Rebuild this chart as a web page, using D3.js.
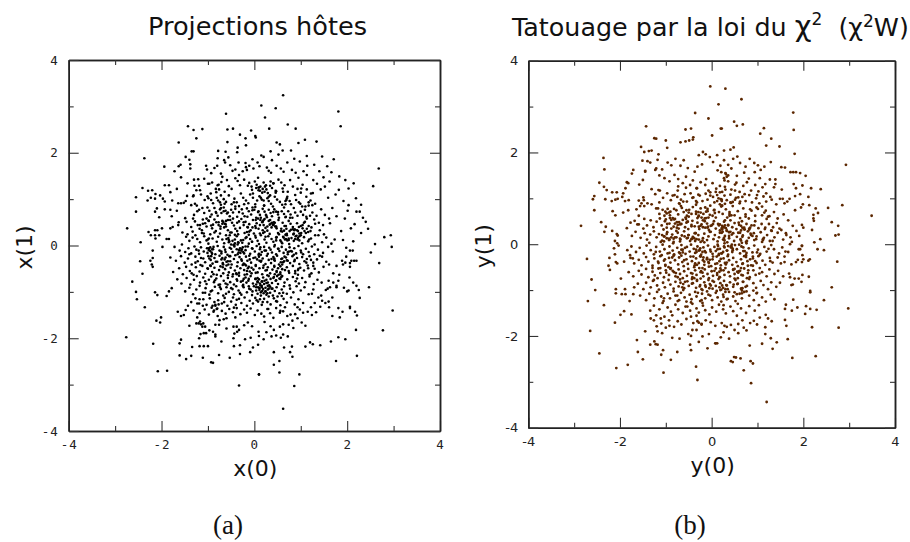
<!DOCTYPE html>
<html><head><meta charset="utf-8">
<script src="https://d3js.org/d3.v7.min.js"></script>
<style>html,body{margin:0;padding:0;background:#fff}svg{display:block}</style></head>
<body><svg id="c" width="910" height="542"></svg>
<script>
const hostOuter=[.15,3.02,.23,2.76,.32,2.52,-.61,2.84,-1.43,2.57,-1.31,2.49,-1.12,2.51,-1.25,2.31,-1.63,2.22,-1.31,2.03,-1.35,2.03,-1.48,1.91,-1.4,1.85,-2.37,1.88,-1.94,1.7,-1.72,1.6,-1.59,1.74,-1.38,1.75,-1.38,1.66,-.58,2.5,-.46,2.52,-.58,2.23,-.31,2.39,-.19,2.31,-.07,2.48,.02,2.36,.03,2.33,-.36,2.11,-.37,2.01,-.18,2.16,-.78,2.04,-.62,2.02,-.79,1.88,-.65,1.84,-.56,1.9,-.63,1.79,.15,1.94,.2,1.91,-.04,1.86,-.34,1.79,-.19,1.78,-.18,1.69,-.16,1.63,-2.41,1.24,-2.55,1.04,-2.55,.73,-2.74,.37,-2.45,.07,-2.29,1.18,-2.2,1.19,-2.13,1.11,-2.03,1.08,-2.23,1.03,-2.3,.97,-2.14,1.01,-1.97,1.01,-1.93,.95,-1.93,1.3,-1.84,1.3,-1.81,1.15,-1.67,1.22,-2.1,.8,-2.14,.73,-1.93,.78,-1.81,.77,-1.78,.63,-2.05,.61,-1.67,.75,-1.77,.97,-1.64,.91,-1.58,.91,-1.48,.96,-1.52,.92,-1.45,1.07,-1.58,1.47,-1.44,1.34,-1.3,1.42,-1.21,1.43,-1.29,1.29,-1.19,1.29,-1.31,1.08,-1.15,1.1,-1.25,1.19,-1.17,1.19,-2.28,.29,-2.14,.33,-2.09,.33,-1.99,.37,-2.23,.22,-2.14,.22,-2.05,.22,-2.13,.15,-1.89,.14,-1.84,.14,-1.81,.37,-1.76,.4,-1.64,.44,-1.63,.5,-1.49,.59,-1.46,.51,-1.32,.58,-1.36,.87,
.62,-3.52,.86,-3.03,.97,-2.78,.1,-2.78,.54,-2.74,.42,-2.57,.54,-2.49,.82,-2.4,.77,-2.3,.42,-2.3,.64,-2.2,.81,-2.18,1.1,-2.18,1.2,-2.09,1.26,-2.13,1.42,-2.15,1.65,-2.07,1.81,-1.98,1.96,-2.02,1.76,-2.49,2.21,-2.38,2.19,-1.82,2.77,-1.83,2.98,-1.4,2.27,-1.13,2.25,-.96,2.47,-.9,2.2,-.87,2.13,-.8,2.05,-.69,2.69,-.38,2.51,-.15,2.6,.03,2.96,-.03,2.8,.18,2.94,.22,2.13,.09,2.06,-.11,2.12,-.11,1.98,-.05,1.98,-.24,2.09,-.33,2.15,-.33,2.2,-.33,2.06,-.38,2.06,-.46,1.96,-.37,1.89,-.33,1.91,-.41,1.77,-.44,1.61,-.41,1.7,-.6,1.83,-.63,1.6,-.76,1.7,-.8,1.81,-.76,1.77,-.87,1.77,-.9,1.93,-.91,2,-.99,2.03,-.97,1.63,-.9,1.58,-.93,1.54,-.96,1.68,-1.12,1.6,-1.21,1.61,-1.33,1.81,-1.35,1.9,-1.43,2.06,-1.32,2.06,-1.35,2.17,-1.43,2.21,-1.51,1.68,-1.52,1.84,-1.55,
-2.76,-1.98,-2.18,-2.12,-2.08,-2.71,-1.88,-2.7,-2.63,-.78,-2.55,-1,-2.53,-1.16,-2.36,-1.33,-2.41,-.61,-2.46,-.34,-2.24,-.33,-2.19,-.27,-2.21,-.41,-2.19,-.46,-2.19,-.11,-1.98,-.03,-2.14,-1.01,-2.09,-1.07,-1.89,-1.09,-1.84,-.99,-1.78,-.92,-2.01,-1.55,-2.11,-1.62,-2.03,-1.66,-1.65,-1.43,-1.58,-1.52,-1.52,-1.5,-1.43,-1.3,-1.48,-1.39,-1.4,-1.73,-1.58,-2.03,-1.61,-2.11,-1.34,-2.19,-1.61,-2.37,-1.47,-2.45,-1.36,-2.38,-1.18,-2.17,-1.09,-2.17,-1,-2.17,-1.11,-2.42,-.93,-2.52,-.89,-2.53,-.76,-2.36,-.53,-2.42,-.31,-2.34,-.09,-2.3,-.03,-2.2,-.33,-3.02,.1,-2.78,-.44,-2.17,-.31,-2.15,-.71,-2.07,-1.19,-2,-1.16,-1.91,-1.09,-1.89,-1.04,-1.89,-.97,-1.83,-.89,-1.86,-.84,-1.92,-.84,-1.96,-1.25,-1.68,-1.2,-1.68,-1.15,-1.7,-1.1,-1.68,-1.23,-1.55,-1.12,-1.75,-1.06,-1.75,-1.17,-1.64,-.45,-2,-.43,-1.9,-.37,-1.86,-.33,-1.82,-.38,-1.75,-.45,-1.75,-.6,-1.79,-.84,-1.71,-.76,-1.71,-.75,-1.61,-.66,-1.59,-.6,-1.57,-.41,-1.55,-.2,-2.02,-.08,-1.99,.09,-1.86,.1,-1.95,.2,-2.02,.26,-1.87,.08,-2.14,.37,-1.96,.47,-1.94,.57,-1.99,.62,-1.92,.72,-1.96,.55,-1.75,.62,-1.7,.74,-1.71,.82,-1.62,.93,-1.57,1.1,-1.73,1.02,-1.66,.84,-1.78,.22,-1.65,.35,-1.74,.42,-1.82,-.05,-1.74,-.14,-1.66,-.22,-1.72,1.24,-1.5,1.33,-1.44,1.42,-1.32,1.3,-1.24,1.22,-1.33,1.15,-1.43,1.05,-1.45,.98,-1.38,.78,-1.49,.71,-1.52,.62,-1.42,.55,-1.45,1.46,-1.19,1.38,-1.12,1.24,-1.04,1.53,-1.24,1.44,-1.08,
1.82,1.2,1.75,1.1,1.92,.96,2.03,.87,2.2,.73,2.34,.6,2.4,.51,2.56,1.28,2.3,.88,2.68,1.66,1.71,1.86,1.81,2.89,1.86,2.57,1.09,2.28,1.34,2.24,.89,2.52,.62,3.24,.46,2.96,.72,2.61,.95,2.21,.79,2.05,.55,2.18,.48,2.22,.35,2.03,.61,2.05,1.13,1.93,1.46,1.92,1.57,1.71,1.66,1.58,1.83,1.49,1.96,1.41,2.14,1.34,2.03,1.23,1.62,1.38,1.49,1.47,1.4,1.6,1.29,1.74,1.14,1.72,.98,1.81,.86,1.87,.71,1.79,.52,1.96,.38,1.84,2.19,1.02,2.27,.73,2.45,.36,2.3,.27,2.16,.46,1.95,.58,2.08,.37,1.87,.31,1.73,.13,1.91,.12,1.63,.48,1.77,.63,2.01,.75,1.68,.81,1.59,1.03];
const hostCore=[-1.63,1.71,-1.04,1.72,-1.02,1.64,-.93,1.56,-.86,1.67,-.8,1.72,-.72,1.55,-.69,1.48,-.52,1.73,-.47,1.61,-.41,1.64,-.33,1.52,-.25,1.6,-.11,1.72,-.02,1.66,.07,1.79,.11,1.71,.27,1.68,.31,1.61,.36,1.57,.48,1.72,.57,1.66,.63,1.59,.81,1.63,.89,1.57,.95,1.46,1.06,1.6,1.13,1.52,1.27,1.41,1.35,1.33,1.43,1.21,1.52,1.27,1.26,1.13,1.13,1.21,1.04,1.31,-1.08,1.44,-1,1.33,-.91,1.36,-.83,1.22,-.77,1.31,-.71,1.37,-.64,1.16,-.59,1.41,-.55,1.28,-.49,1.22,-.41,1.45,-.36,1.39,-.31,1.3,-.22,1.42,-.14,1.29,-.11,1.35,-.05,1.2,.01,1.38,.05,1.31,.09,1.25,.12,1.18,.17,1.14,.2,1.36,.23,1.27,.26,1.21,.29,1.13,.34,1.29,.38,1.24,.41,1.34,.47,1.17,.52,1.42,.58,1.36,.61,1.23,.65,1.3,.72,1.16,.77,1.41,.83,1.27,.88,1.09,.93,1.22,1,1.14,1.12,1.05,1.21,.97,1.31,.9,-1.07,.98,-1.01,1.06,-.94,1.12,-.89,.91,-.81,1.03,-.78,.97,-.72,.88,-.66,1,-.61,.94,-.55,1.08,-.49,.89,-.43,1.01,-.38,.93,-.33,.85,-.29,1.12,-.24,1.03,-.18,.97,-.13,.91,-.09,1.1,-.03,1.03,.02,.89,.06,.97,.11,1.06,.16,.99,.21,.86,.28,1.02,.31,.96,.36,.9,.4,.84,.44,1.05,.49,.99,.55,.94,.6,.88,.64,.82,.7,1.02,.76,.96,.79,.89,.85,.81,.9,.98,.96,.93,1.03,.84,1.09,.77,1.17,.86,1.25,.71,1.34,.64,1.44,.78,1.52,.66,1.61,.58,
-1.24,.86,-1.19,.77,-1.12,.81,-1.08,.7,-1.01,.82,-.97,.75,-.92,.67,-.86,.81,-.83,.72,-.79,.64,-.74,.78,-.71,.7,-.66,.82,-.62,.75,-.59,.69,-.53,.63,-.5,.77,-.46,.71,-.41,.79,-.37,.62,-.33,.72,-.27,.78,-.25,.69,-.21,.63,-.16,.8,-.12,.74,-.07,.67,-.04,.82,0,.77,.04,.6,.08,.72,.12,.66,.18,.79,.22,.73,.25,.66,.31,.77,.35,.7,.38,.63,.43,.78,.47,.73,.51,.67,.53,.6,.59,.74,.64,.68,.68,.62,.73,.74,.78,.67,.82,.6,.88,.71,.93,.64,1,.73,1.05,.66,1.13,.58,1.2,.64,1.29,.56,1.39,.49,1.48,.44,
-1.36,.4,-1.28,.52,-1.22,.44,-1.18,.36,-1.11,.56,-1.06,.48,-1.03,.41,-.98,.53,-.93,.43,-.91,.37,-.86,.56,-.82,.5,-.77,.44,-.73,.36,-.69,.53,-.64,.47,-.61,.41,-.57,.33,-.52,.55,-.48,.49,-.44,.43,-.41,.36,-.37,.31,-.33,.52,-.28,.57,-.23,.44,-.19,.51,-.14,.39,-.11,.46,-.08,.33,-.03,.55,.02,.42,.05,.48,.09,.36,.13,.55,.17,.5,.2,.44,.24,.38,.28,.32,.31,.53,.35,.47,.38,.49,.41,.45,.45,.41,.48,.37,.52,.55,.57,.31,.61,.49,.65,.42,.69,.36,.74,.53,.78,.47,.83,.4,.87,.35,.92,.48,.94,.31,.97,.26,1,.42,1.04,.37,1.09,.51,1.16,.29,1.23,.39,1.31,.47,1.41,.33,1.5,.24,
-1.55,.28,-1.47,.19,-1.4,.1,-1.33,.3,-1.27,.22,-1.23,.14,-1.17,.07,-1.13,.27,-1.08,.2,-1.03,.11,-.99,.04,-.95,.24,-.9,.15,-.86,.28,-.81,.08,-.78,.19,-.74,.26,-.69,.13,-.65,.05,-.61,.22,-.56,.16,-.54,.09,-.49,.28,-.45,.01,-.42,.13,-.38,.2,-.35,.24,-.29,.11,-.26,.06,-.21,.27,-.17,.18,-.12,.23,-.09,.14,-.05,.08,-.01,.26,.03,.17,.07,.1,.1,.03,.14,.22,.19,.27,.22,.13,.26,.06,.3,.2,.33,.25,.37,.14,.41,.08,.44,.01,.48,.18,.53,.24,.56,.11,.6,.05,.63,.17,.67,.23,.71,.11,.75,.03,.8,.16,.84,.24,.88,.14,.91,.21,.94,.16,.97,.11,1,.22,1.03,.05,1.07,.18,1.11,.27,1.16,.09,1.22,.15,1.3,.02,1.38,.22,1.46,.07,1.55,.17,1.66,.04,
-1.72,-.03,-1.61,-.11,-1.56,.02,-1.49,-.14,-1.42,-.06,-1.36,-.17,-1.29,-.02,-1.25,-.09,-1.19,-.18,-1.15,-.04,-1.09,-.13,-1.02,-.06,-.98,-.1,-.95,-.04,-.92,-.15,-.89,-.08,-.84,-.19,-.79,-.01,-.75,-.11,-.71,-.17,-.66,-.03,-.63,-.09,-.58,-.2,-.53,-.05,-.47,-.14,-.43,-.02,-.38,-.08,-.34,-.15,-.31,-.06,-.28,-.11,-.25,-.04,-.22,-.17,-.19,-.1,-.14,-.02,-.09,-.18,-.05,-.06,.01,-.13,.05,-.01,.09,-.2,.12,-.08,.16,-.14,.21,-.03,.25,-.11,.29,-.18,.32,-.05,.35,-.09,.38,-.15,.43,-.02,.47,-.19,.51,-.07,.54,-.12,.59,-.03,.63,-.16,.68,-.09,.72,-.19,.76,-.04,.81,-.13,.86,-.06,.9,-.17,.95,-.01,1,-.11,1.05,-.19,1.11,-.07,1.17,-.14,1.24,-.02,1.29,-.19,1.37,-.09,1.48,-.16,1.59,-.03,1.69,-.13,
-1.81,-.26,-1.69,-.33,-1.58,-.23,-1.5,-.37,-1.43,-.28,-1.35,-.41,-1.27,-.24,-1.22,-.34,-1.16,-.42,-1.1,-.28,-1.06,-.36,-.99,-.23,-.94,-.31,-.9,-.39,-.86,-.27,-.8,-.35,-.75,-.22,-.71,-.3,-.68,-.4,-.62,-.26,-.57,-.34,-.54,-.23,-.49,-.41,-.44,-.29,-.41,-.21,-.36,-.36,-.32,-.25,-.28,-.3,-.23,-.39,-.18,-.24,-.15,-.33,-.11,-.22,-.07,-.37,-.02,-.27,.03,-.42,.06,-.3,.1,-.24,.14,-.35,.18,-.28,.24,-.4,.27,-.22,.31,-.31,.36,-.38,.41,-.25,.44,-.33,.49,-.22,.53,-.41,.58,-.29,.62,-.36,.65,-.24,.7,-.32,.77,-.38,.82,-.23,.87,-.31,.92,-.27,.97,-.4,1.03,-.25,1.08,-.34,1.13,-.29,1.19,-.23,1.27,-.37,1.35,-.3,1.46,-.24,1.55,-.35,
-1.75,-.57,-1.62,-.49,-1.54,-.62,-1.47,-.46,-1.39,-.55,-1.31,-.63,-1.26,-.47,-1.18,-.56,-1.12,-.44,-1.06,-.61,-1,-.5,-.95,-.43,-.91,-.57,-.86,-.48,-.81,-.63,-.76,-.53,-.73,-.45,-.67,-.6,-.63,-.51,-.6,-.43,-.55,-.58,-.51,-.48,-.46,-.62,-.42,-.54,-.37,-.45,-.33,-.59,-.3,-.49,-.25,-.42,-.21,-.63,-.16,-.55,-.12,-.46,-.06,-.6,-.02,-.52,.03,-.44,.07,-.58,.11,-.49,.17,-.62,.2,-.43,.24,-.54,.29,-.47,.34,-.6,.39,-.52,.43,-.44,.48,-.57,.51,-.49,.56,-.62,.6,-.41,.66,-.53,.7,-.47,.75,-.59,.83,-.44,.88,-.55,.94,-.63,.99,-.48,1.07,-.54,1.15,-.43,1.23,-.6,1.3,-.5,1.39,-.58,1.49,-.46,
-1.66,-.73,-1.57,-.82,-1.46,-.7,-1.38,-.84,-1.3,-.74,-1.24,-.66,-1.17,-.8,-1.1,-.69,-1.03,-.83,-.98,-.74,-.93,-.67,-.87,-.79,-.82,-.71,-.77,-.85,-.72,-.66,-.66,-.76,-.62,-.82,-.57,-.7,-.52,-.79,-.47,-.67,-.44,-.84,-.38,-.73,-.33,-.65,-.29,-.78,-.24,-.85,-.19,-.69,-.13,-.76,-.08,-.66,-.03,-.82,.02,-.72,.04,-.84,.07,-.79,.1,-.73,.13,-.86,.16,-.77,.19,-.69,.21,-.83,.24,-.91,.26,-.74,.29,-.8,.32,-.86,.35,-.72,.38,-.81,.42,-.68,.46,-.76,.51,-.83,.56,-.72,.6,-.66,.65,-.8,.71,-.73,.76,-.86,.83,-.68,.89,-.77,.96,-.82,1.03,-.7,1.1,-.79,1.19,-.67,1.28,-.83,1.36,-.74,1.45,-.8,
-1.49,-.99,-1.4,-.91,-1.32,-1.05,-1.25,-.95,-1.18,-.87,-1.11,-1.02,-1.05,-.92,-.97,-1.06,-.91,-.97,-.85,-.89,-.78,-1.03,-.72,-.94,-.67,-1.08,-.6,-.9,-.55,-1,-.5,-.92,-.44,-1.05,-.39,-.88,-.34,-.97,-.28,-1.06,-.23,-.9,-.16,-1.01,-.11,-.93,-.05,-1.07,-.01,-.88,.04,-.97,.07,-1.04,.11,-.92,.14,-1.08,.17,-.98,.2,-1.03,.24,-.99,.26,-1.06,.29,-.95,.31,-1.1,.34,-1.02,.37,-.93,.4,-1.08,.44,-.98,.48,-.9,.54,-1.03,.59,-.95,.64,-.88,.7,-1.04,.77,-.93,.84,-1.01,.91,-.88,1,-.97,1.08,-.9,1.17,-1.05,1.27,-.95,
-1.36,-1.22,-1.27,-1.14,-1.19,-1.25,-1.1,-1.16,-1.03,-1.28,-.96,-1.14,-.9,-1.3,-.86,-1.22,-.81,-1.37,-.84,-1.28,-.78,-1.18,-.7,-1.25,-.64,-1.13,-.58,-1.3,-.5,-1.21,-.46,-1.12,-.4,-1.28,-.33,-1.15,-.28,-1.24,-.21,-1.12,-.16,-1.3,-.1,-1.19,-.03,-1.25,.02,-1.13,.08,-1.21,.12,-1.16,.16,-1.28,.21,-1.15,.28,-1.22,.35,-1.27,.42,-1.14,.49,-1.21,.56,-1.29,.63,-1.15,.7,-1.23,.79,-1.12,.87,-1.27,.95,-1.16,1.05,-1.24,
-1.31,-1.4,-1.18,-1.46,-1.07,-1.38,-.98,-1.49,-.88,-1.43,-.79,-1.52,-.7,-1.41,-.62,-1.47,-.54,-1.37,-.46,-1.44,-.38,-1.35,-.3,-1.48,-.22,-1.38,-.16,-1.45,-.08,-1.36,.01,-1.5,.07,-1.4,.15,-1.47,.21,-1.53,.28,-1.37,.34,-1.46,.41,-1.56,.47,-1.35,.66,-1.33,.88,-1.48];
const hostFill=[-.64,.9,-.24,.12,.58,-.68,1.12,.62,-1.27,-.37,.34,1.08,-.88,-.62,.15,-.33,-.46,.58,.79,.34,-1.13,.33,.43,-.31,-.17,-.8,1.22,-.31,-.72,1.08,.03,.55,-.52,-.23,.69,.98,-1.44,.24,.27,-.53,-.95,.62,.51,.72,-.38,-1.17,.94,-.53,-.11,.3,-.68,-.47,1.31,.22,.18,-1.22,-1.06,-.77,.46,1.14,-.31,.38,.72,-.14,-.83,.31,-.03,1.12,1.07,.49,.39,-.93,-.58,-.84,-.22,.89,.64,.32,-1.2,-.11,.22,.29,-.44,-1.34,.85,.1,-.76,1.21,.56,-.45,1.41,-.22,-.15,.62,-.97,-.28,.31,-.66,.77,.6,-.35,.07,-1.3,.66,.92,-.71,.08,1.46,-.57,-.64,.47,.17,-.23,-.72,1.18,.13,-.89,.45,.62,-1.02,-.41,.84,.28,.41,1.01,-.15,-1.35,-.6,.13,-.04,-.71,-.13,.74,-.55,-.31,-1.02,.51,.27,1.27,-.44,-.99,1.02,.09,.74,.68,.14,-.53,.22,-1.01,-.49,-.16,-.62,.35,1.38,.16,-.9,.21,.86,1.12,-.37,-.04,.39,-1.23,-1.25,-.42,.23,.67,.96,-.37,-.76,-.99,.54,.14,-.2,1.19,-.63,.62,1.16,.76,.31,-.25,-.87,.41,.45,-1.18,-1.16,-.05,.08,.41,.72,-.83,-.35,.95,-.5,.1,1.25,.47,.11,-.61,-1.04,.58,.36,.02,-.26,-.44,.93,.03,-.59,-1.09,.26,.93,-1.33,-.82,.7,.52,-.07,-.37,.49,.17,-.78,.24,.19,-1.32,1.06,-.62,-.14,.56,-1.41,.08,.58,.86,-.34,.67,.89,-.47,-.94,.18,.33,-.69,-.27,-1,.13,1.01,1.23,.07,-.7,-.57,.55,-.2,-.41,-.72,.81,.79,-.12,.05,-1.18,.69,.24,-.93,.98,.28,-.64,-1.17,.44,.6,-.51,.41,1.34,-.12,.04,-.39,-.6,1.22,1.12,-.52,.28,.11,-.33,-.66,.74,.04,-.9,-.55,.12,.83,.35,-1.11,-1.3,.1,-.18,-1.03,.58,.43,-.46,1.17,.93,-.74,-.84,.02,.21,.68,.42,-.04,-.07,-1.06,-1.02,.26,.64,-.97,1.33,.43,-.28,.48,-.55,-1.33,.17,.02,.83,-.25,-.76,.6,.3,.85,-.2,-.67,.51,-.82,1.15,-.74,-.9,-.34,.06,1.16,-.49,.2,.97,.47,-1.2,.7,.25,-.27,-.33,-.57,.71,-1.11,.47,.22,-.11,1.25,.87,.88,-.6,-.91,-.08,-.79,1.3,.03,.38,.59,-1.09,-.19,.16,.52,-.63,.71,1.05,-.67,-.41,-1.15,-.27,1.1,.84,.42,.5,-.36,.02,-.12,-.72,-.06,1.27,-.16,.29,-.94,-.99,.67,.61,.19,-.48,-.74,.93,.75,-.13,.46,1.18,.3,-1.37,-.15,.4,-1.28,.9,-.1,-.3,.86,.33,.56,-.58,-.04,.76,-.5,-.07,.5,-1.1,.34,.55,-1.4,-.19,-.98,.15,.99,.9,-.62,.46,-.19,-.02,.37,-.29,-.85,-.75,.12,.26,-.65,-1.22,.2,.55,.14,1.03,.74,.12,-.94,-.44,.31,1.05,-.43,.01,-.23,.5,-1.23,.74,-.38,-.62];
const hostClumps=[.03,-.72,.07,-.77,.12,-.82,.16,-.87,.19,-.94,.24,-.99,.28,-1.03,.31,-.93,.34,-.89,.08,-.9,.11,-.96,.14,-1.01,.22,-.76,.26,-.81,.29,-.87,-.12,-.88,-.08,-.95,-.04,-.99,-.98,-.06,-.95,-.12,-.91,-.18,-.93,-.23,-.88,-.03,-1.01,-.16,-.33,-.1,-.3,-.16,-.27,-.08,-.24,-.14,-.36,-.19,.93,.13,.97,.2,1.01,.27,.89,.2,.85,.26,.92,.33,.96,.4,.4,.44,.44,.49,.37,.39,.33,.45,.47,.41,.04,1.24,.09,1.19,.13,1.27,.18,1.22,.22,1.16,.25,1.3,-.84,-1.3,-.8,-1.36,-.87,-1.4,-.77,-1.27,-.92,-1.34,-.55,.07,-.5,.02,-.47,.1,-.42,.05,-.6,.14,.6,-.28,.64,-.34,.68,-.26,.72,-.33,.57,-.36,.44,-.62,.49,-.66,.54,-.71,.41,-.7,.47,-.75,-.64,-.3,-.6,-.35,-.56,-.41,-.68,-.38,-.52,-.34,.18,.52,.22,.57,.14,.6,.27,.61,.12,.44,-.73,.41,-.69,.47,-.65,.39,-.61,.53,-.77,.5,.66,.13,.62,.19,.7,.22,.58,.08,.74,.15,-.18,-.43,-.14,-.49,-.1,-.56,-.22,-.53,-.06,-.48,1.13,.36,1.17,.42,1.08,.31,1.21,.31,1.04,.44];
const chiOuter=[-.03,3.44,.3,3.39,-.36,2.86,-.07,2.74,.15,3.05,.2,2.52,.22,2.52,.01,2.37,-1.43,2.57,-.57,2.5,-.45,2.52,-1.25,2.31,-1.21,2.3,-1,2.26,-.97,2.1,-.68,2.22,-.57,2.24,-.49,2.26,-.41,2.28,-.4,2.33,-1.54,2.12,-1.47,2.01,-1.37,2.03,-1.31,2.04,-1.16,1.96,-2.36,1.88,-2.34,1.63,-2.85,.4,-2.45,1.34,-2.35,1.25,-2.29,1.18,-2.56,1.05,-2.59,.98,-2.56,.74,-2.41,.48,-2.31,.38,-2.34,.27,-2.17,1.13,-2.07,1.13,-2.32,.98,-2.18,.94,-2.1,.97,-2.05,.99,-1.95,1.03,-1.93,1.11,-1.88,1.22,-1.85,1.35,-1.82,1.33,-1.89,.94,-1.81,.96,-1.74,1.54,-1.71,1.62,-1.58,1.3,-1.5,1.4,-1.51,1.82,-1.4,1.81,-1.34,1.78,-1.45,1.6,-1.45,1.58,-1.18,1.84,-1.23,1.62,-1.21,1.65,-2.16,.72,-2.1,.63,-1.93,.69,-1.82,.74,-1.64,.76,-1.59,.62,-1.49,1.02,-1.48,.96,-1.59,.95,-1.56,.83,-1.47,.83,-1.4,.89,-1.53,.89,-1.85,.35,-1.77,.47,-1.68,.51,-1.62,.43,-1.59,.43,-2.17,.29,-2.07,.22,-2.05,.19,-2.11,.07,-2.06,.02,-2.13,-.09,
.65,3.16,.49,2.67,.55,2.58,.68,2.61,1.78,2.87,1.79,2.49,1.14,2.53,1.06,2.41,1.3,2.3,1.19,2.15,1.48,2.13,1.81,1.97,2.93,1.73,1.29,1.79,1.52,1.68,1.6,1.67,1.72,1.57,1.78,1.57,1.84,1.57,1.93,1.55,2.05,1.49,3.49,.62,2.85,.85,2.54,.79,2.38,1.2,2.17,1.22,1.98,1.28,1.79,1.31,1.84,1.22,1.93,1.09,1.82,1.05,2.11,1.03,2.62,.48,2.76,.4,2.7,.19,2.77,.21,2.37,.11,2.24,.04,2.31,-.11,2.45,-.13,2.27,.78,2.32,.68,2.22,.64,2.22,.56,2.23,.51,2.19,.31,1.99,.87,2.13,.85,1.95,.8,1.82,.74,1.97,.42,2,.36,1.77,.4,1.85,.29,1.91,.18,1.72,.15,1.75,.05,1.97,-.04,1.93,-.11,1.55,.99,1.59,.89,1.65,.93,1.7,.99,1.49,.99,1.39,1.41,1.39,1.31,1.36,1.24,1.53,1.19,
-2.72,-.32,-2.62,-.77,-2.54,-1,-2.7,-1.24,-2.35,-1.33,-2.65,-1.89,-2.45,-2.38,-2.08,-2.7,-1.83,-2.63,-1.05,-2.8,-.34,-2.67,-.31,-2.96,-2.11,-1.71,-1.99,-1.54,-1.91,-1.46,-1.75,-1.53,-1.79,-1.24,-2.09,-.98,-2.09,-1.07,-1.96,-1.09,-1.89,-.98,-1.88,-1.09,-1.71,-1.09,-1.98,-.75,-2.23,-.3,-2.25,-.47,-2.22,-.56,-2.11,-.22,-2.09,-.39,-2.06,-.42,-2.03,-.03,-1.45,-1.9,-1.63,-2.09,-1.61,-2.35,-1.5,-2.51,-1.34,-2.19,-1.25,-2.12,-1.22,-2.18,-1.18,-2.19,-1.06,-2.31,-1.1,-2.41,-.89,-2.52,-.75,-2.35,-.86,-2.04,-.7,-2.06,-.47,-2.19,-.45,-2.31,-.09,-2.27,.09,-2.16,-.28,-2.13,-.51,-1.96,-.45,-2,-.42,-1.87,-.33,-1.87,-.2,-2.01,-.06,-1.96,.2,-2.03,.38,-2.06,
1.2,-3.44,.86,-3.03,.7,-2.75,.42,-2.55,.46,-2.57,.49,-2.46,.53,-2.47,.63,-2.49,.85,-2.55,.9,-2.6,1.76,-2.48,2.27,-2.44,.08,-2.16,.12,-2.16,.83,-2.21,1.1,-2.17,1.33,-2.28,1.42,-2.14,1.29,-2.05,1.17,-1.96,1.66,-2.07,2.19,-1.81,2.77,-1.82,2.98,-1.4,2.45,-1.22,2.62,-.94,2.74,-.38,2.15,-1.02,2.15,-1.05,2.29,-1.43,2.15,-1.41,2.06,-1.35,2.04,-1.52,1.87,-1.38,1.78,-1.21,1.6,-1.41,1.62,-1.32,1.75,-1.45,1.6,-1.65,1.63,-1.78,1.17,-1.81,1.31,-1.68,1.23,-1.62,1.18,-1.54,1.98,-.67,2.12,-.71,1.96,-.82,1.9,-.75,1.81,-.75,1.77,-.88,1.74,-.89,1.71,-.72,1.69,-.64,2.14,-.33,2.11,-.36,2,-.33,1.98,-.24,1.97,-.39,1.88,-.34,1.84,-.39,1.74,-.44,1.59,-.27,1.59,-.39,1.61,-.16,1.71,0,1.9,-.11,1.97,-.03,
.26,-1.92,.33,-1.8,.42,-1.76,.5,-1.87,.58,-1.94,.7,-1.82,.76,-1.88,.84,-1.72,.92,-1.67,.99,-1.75,1.05,-1.6,.67,-1.66,.58,-1.74,.22,-1.72,.08,-1.78,-.02,-1.7,-.13,-1.66,-.22,-1.75,-.31,-1.68,-.4,-1.72,-.55,-1.63,-.66,-1.75,-.74,-1.68,-.82,-1.8,-.92,-1.78,-1,-1.82,-1.1,-1.73,-1.2,-1.79,-1.26,-1.66,-1.33,-1.62,-1.08,-1.94,-1.18,-1.9];
const chiCore=[-1.08,1.63,-.96,1.78,-.88,1.72,-.79,1.86,-.68,1.71,-.61,1.83,-.52,1.66,-.37,1.58,-.31,1.69,-.21,1.74,-.28,1.94,-.19,2.01,-.13,1.96,-.04,1.9,.03,1.79,.12,1.94,.19,1.71,.27,1.83,.36,1.73,.47,1.86,.56,1.91,.62,1.77,.74,1.69,.83,1.86,.93,1.77,1.01,1.72,1.07,1.62,1.15,1.69,.41,2.06,.27,2.04,.48,2.11,.13,1.61,.21,1.57,.31,1.53,.43,1.65,.55,1.49,.71,1.56,.81,1.43,.94,1.57,1.05,1.44,1.17,1.31,1.27,1.41,-1.14,1.5,-1.03,1.44,-.92,1.37,-.81,1.51,-.73,1.42,-.63,1.33,-.56,1.47,-.47,1.29,-.41,1.39,-.33,1.22,-.24,1.35,-.14,1.29,-.07,1.17,.02,1.33,.1,1.21,.18,1.27,.23,1.14,.29,1.25,.36,1.37,.43,1.19,.51,1.3,.61,1.14,.69,1.27,.77,1.35,.86,1.17,.95,1.29,1.02,1.15,1.11,1.24,1.19,1.11,1.28,1.03,-1.31,1.2,-1.23,1.09,-1.13,1.17,-1.06,1.01,-.97,1.11,-.89,.96,-.81,1.07,-.74,1.17,-.67,.97,-.59,1.09,-.54,.93,-.46,1.11,-.4,1.02,-.32,.91,-.26,1.06,-.2,.94,-.13,1.1,-.09,.97,-.03,1.13,.03,1.03,.06,.91,.12,1.07,.15,1,.18,1.13,.22,.94,.28,1.06,.33,.96,.41,1.08,.46,.92,.53,1.01,.61,.89,.67,1.03,.74,.94,.82,1.07,.88,.91,.97,1,1.04,.89,1.13,1.04,1.19,.93,1.31,.97,1.41,.87,
-1.31,.87,-1.21,.78,-1.14,.66,-1.07,.75,-1.03,.62,-1.01,.71,-.98,.67,-.96,.77,-.93,.69,-.91,.63,-.85,.57,-.77,.74,-.73,.65,-.67,.83,-.61,.7,-.57,.58,-.56,.55,-.54,.62,-.52,.49,-.49,.75,-.44,.66,-.41,.81,-.34,.71,-.29,.6,-.24,.78,-.18,.66,-.15,.56,-.09,.72,-.03,.84,.02,.62,.05,.74,.09,.58,.16,.7,.21,.82,.24,.66,.31,.76,.34,.58,.39,.7,.46,.83,.5,.63,.57,.72,.62,.57,.69,.78,.74,.65,.81,.56,.87,.73,.95,.62,1.01,.77,1.1,.63,1.18,.73,1.26,.61,1.36,.7,1.44,.56,1.57,.65,1.67,.52,
-1.47,.55,-1.41,.41,-1.33,.52,-1.27,.37,-1.2,.49,-1.13,.56,-1.09,.41,-1.02,.5,-.98,.36,-.92,.45,-.88,.53,-.83,.38,-.76,.48,-.72,.34,-.69,.43,-.63,.53,-.58,.37,-.55,.47,-.51,.33,-.44,.42,-.42,.51,-.37,.39,-.31,.47,-.27,.33,-.22,.43,-.19,.52,-.14,.36,-.1,.45,-.08,.38,-.06,.31,-.04,.27,0,.41,.05,.5,.09,.34,.14,.44,.18,.3,.23,.4,.27,.49,.31,.35,.33,.29,.36,.42,.38,.26,.41,.52,.45,.37,.5,.46,.54,.33,.6,.42,.66,.5,.71,.36,.76,.44,.82,.32,.87,.41,.89,.18,.92,.24,.95,.5,.97,.11,1.02,.35,1.09,.44,1.16,.33,1.25,.44,1.34,.37,1.42,.46,1.48,.34,1.52,.31,1.62,.24,
-1.74,.18,-1.66,.27,-1.55,.14,-1.46,.24,-1.41,.1,-1.34,.21,-1.26,.28,-1.2,.15,-1.15,.22,-1.08,.08,-1.04,.17,-.97,.26,-.93,.12,-.86,.21,-.83,.05,-.77,.15,-.74,.25,-.68,.1,-.65,.19,-.6,.28,-.54,.13,-.51,.2,-.47,.07,-.41,.16,-.37,.24,-.33,.11,-.29,.2,-.24,.05,-.19,.13,-.16,.23,-.1,.09,-.07,.17,-.02,.27,.04,.11,.07,.2,.13,.06,.16,.15,.22,.25,.25,.1,.29,.18,.34,.04,.38,.13,.44,.21,.49,.07,.55,.16,.58,.25,.63,.11,.68,.19,.75,.05,.81,.14,.85,.23,.93,.09,.98,.17,1.07,.26,1.12,.11,1.21,.2,1.27,.07,1.37,.15,1.44,.25,1.56,.1,1.63,.2,
-1.84,-.13,-1.75,-.05,-1.78,-.24,-1.72,-.31,-1.65,-.17,-1.57,-.08,-1.48,-.2,-1.42,-.03,-1.33,-.13,-1.26,-.22,-1.21,-.06,-1.13,-.16,-1.07,-.01,-1.03,-.11,-.96,-.2,-.92,-.05,-.85,-.14,-.82,-.23,-.75,-.08,-.71,-.18,-.66,-.02,-.63,-.12,-.57,-.21,-.54,-.06,-.48,-.16,-.45,-.01,-.39,-.1,-.36,-.19,-.34,-.12,-.31,-.05,-.33,-.17,-.28,-.14,-.25,-.09,-.23,-.23,-.18,-.07,-.13,-.18,-.08,-.03,-.03,-.12,.02,-.21,.06,-.06,.09,-.15,.13,-.01,.18,-.1,.22,-.2,.27,-.05,.33,-.14,.36,-.23,.42,-.07,.45,-.17,.51,-.02,.55,-.11,.62,-.2,.65,-.05,.72,-.15,.75,-.24,.81,-.09,.89,-.18,.93,-.03,1.01,-.12,1.06,-.21,1.15,-.06,1.2,-.16,1.3,-.02,1.36,-.11,1.47,-.2,1.54,-.07,1.67,-.17,
-1.91,-.38,-1.77,-.3,-1.69,-.42,-1.59,-.34,-1.53,-.46,-1.43,-.28,-1.38,-.38,-1.29,-.47,-1.25,-.31,-1.16,-.41,-1.12,-.26,-1.04,-.36,-1.01,-.45,-.93,-.3,-.9,-.4,-.83,-.25,-.8,-.35,-.73,-.44,-.71,-.29,-.64,-.39,-.61,-.48,-.55,-.33,-.52,-.43,-.46,-.27,-.43,-.37,-.37,-.46,-.34,-.31,-.28,-.41,-.25,-.26,-.19,-.35,-.16,-.45,-.1,-.3,-.07,-.39,-.01,-.48,.02,-.33,.08,-.43,.11,-.27,.17,-.37,.2,-.46,.26,-.31,.29,-.41,.35,-.26,.38,-.35,.45,-.45,.47,-.3,.54,-.39,.57,-.48,.64,-.33,.67,-.43,.75,-.28,.78,-.37,.86,-.46,.9,-.31,.98,-.41,1.02,-.26,1.11,-.36,1.17,-.45,1.27,-.3,1.33,-.4,1.44,-.29,1.51,-.42,
-1.81,-.61,-1.71,-.7,-1.59,-.58,-1.53,-.66,-1.43,-.54,-1.38,-.72,-1.29,-.6,-1.24,-.68,-1.16,-.53,-1.12,-.63,-1.04,-.72,-1,-.57,-.93,-.67,-.89,-.52,-.82,-.61,-.79,-.7,-.72,-.55,-.69,-.65,-.63,-.74,-.6,-.59,-.54,-.69,-.51,-.54,-.45,-.63,-.42,-.72,-.36,-.57,-.33,-.67,-.27,-.52,-.24,-.61,-.18,-.7,-.15,-.55,-.09,-.65,-.06,-.74,0,-.59,.03,-.69,.09,-.53,.12,-.63,.18,-.72,.21,-.57,.28,-.67,.3,-.52,.37,-.61,.4,-.7,.47,-.55,.5,-.65,.57,-.74,.6,-.59,.68,-.68,.71,-.53,.79,-.63,.83,-.72,.91,-.57,.96,-.67,1.05,-.52,1.1,-.61,1.2,-.7,1.26,-.55,1.37,-.65,1.45,-.58,1.56,-.7,
-1.69,-.94,-1.61,-.86,-1.49,-.98,-1.43,-.84,-1.33,-.94,-1.28,-.8,-1.19,-.9,-1.15,-.99,-1.06,-.84,-1.02,-.94,-.94,-.78,-.9,-.88,-.83,-.97,-.79,-.82,-.72,-.92,-.69,-.77,-.62,-.87,-.6,-.96,-.53,-.81,-.5,-.91,-.43,-.76,-.41,-.85,-.34,-.95,-.32,-.8,-.25,-.89,-.22,-.98,-.16,-.83,-.13,-.93,-.07,-.78,-.04,-.87,.02,-.97,.05,-.82,.09,-.91,.11,-1.02,.15,-.76,.17,-.94,.19,-.85,.21,-.99,.23,-.9,.25,-.95,.27,-.8,.3,-1.04,.32,-.89,.35,-.98,.4,-.83,.47,-.93,.52,-.78,.56,-.87,.64,-.97,.68,-.82,.77,-.91,.82,-.76,.91,-.85,.97,-.95,1.07,-.8,1.13,-.89,1.23,-.98,1.3,-.83,1.41,-.93,1.49,-.84,
-1.56,-1.12,-1.43,-1.22,-1.36,-1.08,-1.25,-1.18,-1.19,-1.04,-1.1,-1.14,-1.05,-1.24,-.96,-1.08,-.91,-1.18,-.83,-1.03,-.79,-1.12,-.71,-1.22,-.67,-1.06,-.59,-1.16,-.55,-1.25,-.48,-1.1,-.44,-1.2,-.36,-1.04,-.33,-1.14,-.25,-1.24,-.21,-1.08,-.14,-1.18,-.1,-1.03,-.03,-1.12,.01,-1.22,.09,-1.06,.13,-1.16,.21,-1.25,.25,-1.1,.33,-1.2,.38,-1.04,.47,-1.14,.52,-1.24,.61,-1.08,.66,-1.18,.76,-1.03,.82,-1.12,.92,-1.22,.99,-1.06,1.1,-1.16,1.18,-1.25,1.29,-1.1,1.37,-1.2,
-1.34,-1.45,-1.26,-1.34,-1.14,-1.42,-1.07,-1.28,-.96,-1.38,-.89,-1.47,-.79,-1.32,-.73,-1.42,-.63,-1.5,-.57,-1.36,-.47,-1.45,-.42,-1.3,-.33,-1.4,-.28,-1.49,-.19,-1.34,-.14,-1.44,-.05,-1.53,.01,-1.38,.1,-1.47,.16,-1.32,.25,-1.42,.31,-1.51,.41,-1.36,.47,-1.46,.57,-1.3,.64,-1.4,.75,-1.5,.82,-1.35,.94,-1.45,1.03,-1.33,-1.21,-1.55,-1.11,-1.62,-1.03,-1.58,-.93,-1.66,-.86,-1.55,-.45,-1.58,-.33,-1.56,.55,-1.56];
const chiFill=[-.71,.89,.24,.37,-.42,-.64,.93,.41,-1.22,-.17,.3,1.19,-.86,-.29,.57,-.86,-.24,.69,1.14,.14,-1.05,.32,.12,-.42,-.56,1.23,.79,-.47,.41,.91,-1.36,.03,.17,-.72,-.68,-.84,.64,.3,-.12,1.42,1.28,-.37,-.91,.57,.46,-.13,-.3,-1.06,.84,.76,-.16,.04,-.77,.29,.35,-1.19,1.04,-.64,-1.14,.91,.6,-.01,-.5,.6,.23,.84,-.2,-.52,.72,1.09,-1.29,-.52,.41,.27,-.02,-.9,1.2,.55,-.63,-.18,.54,1.34,-.34,.94,.15,-.24,.9,-.27,-.97,.44,-.45,-1.27,.68,-.42,.29,.52,-1.18,-.74,-.07,.58,.47,-.56,1.33,.07,-.73,1.26,.06,-.58,-.38,.13,.76,.02,.33,-.9,-1.01,-.47,.58,1.02,.2,-.32,-.22,-1.22,1.1,.82,-.62,-1,.99,-.18,-.28,.38,.39,.62,-1.49,.34,-.04,.64,-.8,.45,.12,-.67,.67,-.96,.27,.14,-.15,-.15,-.66,-.12,1.17,.36,.5,-1.05,.02,-.8,-.82,.77,.22,.97,-.35,.24,-.99,-.62,.95,-.37,.44,-.07,-.69,.06,-.26,-.92,.31,-.44,.77,-.74,1.31,.29,.07,.68,-.5,.2,.62,.93,-1.17,-.38,-.1,-.33,.98,-1.07,-.12,.57,.16,-.21,1.24,-.1,-.43,.12,1.05,-.23,-.9,.71,.84,.36,-.53,.49,-.05,-.96,-.58,-.08,.84,-.33,.55,-1.09,1.3,.3,-.2,-1.28,.26,-1.33,.47,.24,-.8,.15,-.34,.86,.5,-.75,-.23,-.59,.18,.43,-.65,.79,.09,1.14,-.74,-1.24,-.88,.34,1.12,.09,-.02,-.16,-1.12,-.52,-.42,1.01,-.07,-1.1,.74,.6,.67,.16,-.75,1.03,.38,.18,-.38,-.5,.28,.02,.51,1.17,-.12,.71,-1.02,-.33,-.7,.88,.14,-.04,.03,.44,-1.04,-1.18,.03,-.27,.06,.75,-.58,-.82,.48,-.88,.27,.1,-.64,-.94,.23,.32,.17,-.6,.99,1.07,-.44,.39,1.1,.05,-1.26,-.78,.21,-.2,.43,.63,-.32,1.22,-.8,.55,-.92,-.19,.98,.8,.26,-.57,.44,-.01,.33,-.4,.18,.25,-.5,.69,.65,-.67,-.53,-1.36,-.62,.93,-.09,.36,-.66,-.25,.28,1.39,-.15,.5,.3,-.98,.77,.07,.42,-.05,-.69,.12,-.4,-.27,-1.17,.78,-.14,-.9,.16,.41,1.23,.6,-.32,-.45,.26,-1.15,-.59,.17,-.09,.77,.69,-.07,-.85,1.06,-.19,.37,.91,-1.01,-.82,.54,-.78,-.63,.59,.47,.66,.03,-.2,-.17,.29,.88,-.69,-.2,.82,.34,-.74,-.72,1.15,.69,.28,.08,.9,-.47,-.35,.24,-.06,-.49,-.75,-1.12,.51,.97,-.26,-.13,.39,.66,-1.09,-.24,-.29,1.08,.19,-1,-.55,.74,.29,.41,-.84,.02,.19,-.53,-.31,.57,-.14,.8,.86,.2,-.03,1.06,-.36,-.42,-.02,.4,-1.16,1.18,-.24,-.75,.46,-.1,.64];
const chiClumps=[.08,-.83,.12,-.88,.15,-.93,.09,-.98,.13,-1.03,.17,-1.08,.2,-.98,.22,-1.04,.06,-.92,.1,-1.11,.05,-.2,.08,-.28,.1,-.36,.07,-.44,.11,-.52,.14,-.6,-.35,-.1,-.32,-.16,-.38,-.18,-.29,-.06,-.41,-.04,-.34,-.24,-.27,-.2,-1,.65,-.97,.71,-1.04,.74,-.93,.66,-1.07,.66,-1.01,.8,-.57,.5,-.54,.56,-.6,.58,-.62,.64,-.52,.62,-.58,.7,.33,.27,.37,.33,.3,.36,.41,.24,.27,.22,.35,.42,.9,.12,.94,.18,.87,.2,.98,.22,.84,.13,-.11,.28,-.07,.34,-.14,.36,-.04,.25,-.17,.27,1.44,.36,1.5,.3,1.55,.33,1.47,.28,-1.78,-.22,-1.74,-.28,-1.71,-.2,-.62,-.85,-.58,-.9,-.54,-.94,-.5,-1,.54,-.22,.58,-.28,.62,-.34,.66,-.29,.7,-.24,.4,-.66,.44,-.71,.48,-.76,.36,-.74,.42,-.82,-.23,.76,-.19,.71,-.26,.69,-.15,.79,.28,.72,.32,.67,.36,.62,.25,.64,.4,.69,-.82,-.32,-.78,-.38,-.74,-.43,-.86,-.4];
const ticksMajor=[-4,-2,0,2,4];
const ticksMinor=[-3,-1,1,3];
const panels=[
 {pts:hostOuter.concat(hostCore,hostFill,hostClumps),c:"#000",r0:1.3,l:68.7,r:440,t:60,b:431,xl:"x(0)",yl:"x(1)",cap:"(a)",capX:228,ff:"'DejaVu Sans Mono'",fs:12.5,ls:1},
 {pts:chiOuter.concat(chiCore,chiFill,chiClumps),c:"#5c2700",r0:1.4,l:528.3,r:895,t:60.7,b:427.7,xl:"y(0)",yl:"y(1)",cap:"(b)",capX:690,ff:"'DejaVu Sans'",fs:13,ls:0}
];
const svg=d3.select("#c");
panels.forEach((p,i)=>{
 const x=d3.scaleLinear([-4,4],[p.l,p.r]),y=d3.scaleLinear([-4,4],[p.b,p.t]);
 const pts=d3.range(0,p.pts.length-1,2).map(k=>[p.pts[k],p.pts[k+1]]);
 const g=svg.append("g");
 g.selectAll("circle").data(pts).join("circle").attr("cx",d=>x(d[0])).attr("cy",d=>y(d[1])).attr("r",p.r0).attr("fill",p.c);
 const axes=[[d3.axisBottom(x),p.b,0],[d3.axisTop(x),p.t,0],[d3.axisLeft(y),p.l,1],[d3.axisRight(y),p.r,1]];
 axes.forEach(([ax,pos,vert],k)=>{
  [[ticksMajor,10],[ticksMinor,5]].forEach(([tv,len],m)=>{
   const a=g.append("g").attr("transform",vert?`translate(${pos},0)`:`translate(0,${pos})`)
     .call(ax.tickValues(tv).tickSize(-len).tickSizeOuter(0).tickFormat(d=>String(d)));
   a.select(".domain").attr("stroke","#222").attr("stroke-width",1.5);
   a.selectAll("line").attr("stroke","#333").attr("stroke-width",1.1);
   if(m==1||k==1||k==3) a.selectAll("text").remove();
   else a.selectAll("text").attr("font-family",p.ff).attr("font-size",p.fs).attr("letter-spacing",p.ls).attr("fill","#222")
     .attr("dy",vert?"0.32em":"0.9em").attr("x",vert?-10:null).attr("y",vert?null:7);
  });
 });
 const cx=(p.l+p.r)/2;
 const lab=(sel)=>sel.attr("font-family","'DejaVu Sans'").attr("font-size",22).attr("fill","#111").attr("text-anchor","middle");
 g.append("text").call(lab).attr("x",cx+1).attr("y",p.b+45).text(p.xl);
 g.append("text").call(lab).attr("transform",`translate(${p.l-37},${(p.t+p.b)/2+2}) rotate(-90)`).text(p.yl);
 g.append("text").attr("x",p.capX).attr("y",534).attr("font-family","'Liberation Serif'").attr("font-size",27).attr("fill","#111").attr("text-anchor","middle").text(p.cap);
});
svg.append("text").attr("x",257.5).attr("y",35).attr("font-family","'DejaVu Sans'").attr("font-size",25.6).attr("fill","#111").attr("text-anchor","middle").text("Projections hôtes");
const t2=svg.append("text").attr("x",512).attr("y",36).attr("font-family","'DejaVu Sans'").attr("font-size",25.4).attr("fill","#111");
t2.append("tspan").text("Tatouage par la loi du ");
t2.append("tspan").attr("font-size",29).text("χ");
t2.append("tspan").attr("font-size",17).attr("dy",-11).text("2");
t2.append("tspan").attr("dy",11).text("\u00a0\u00a0(χ");
t2.append("tspan").attr("font-size",17).attr("dy",-9).text("2");
t2.append("tspan").attr("dy",9).text("W)");
</script></body></html>
